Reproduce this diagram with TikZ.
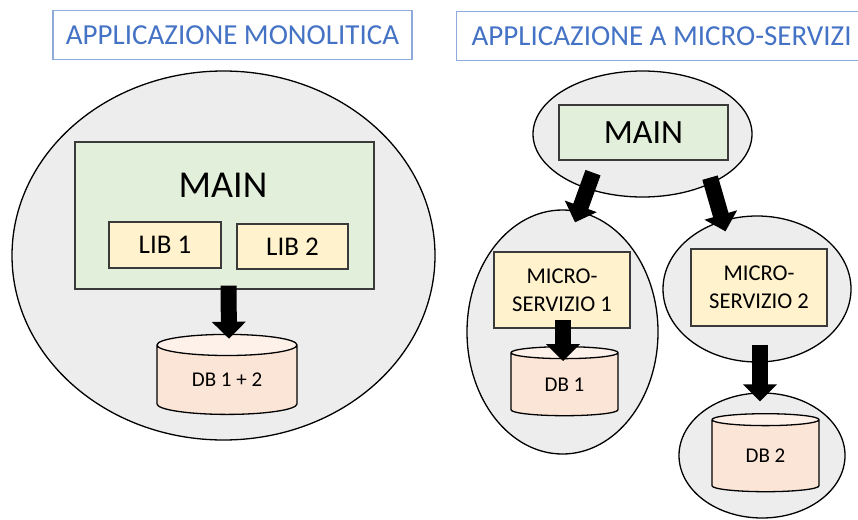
\documentclass[tikz,border=0pt]{standalone}
\usepackage{fontspec}
\setmainfont{Carlito}
\usetikzlibrary{shapes.geometric, arrows.meta, positioning}

\definecolor{titleblue}{HTML}{4472C4}
\definecolor{titleline}{HTML}{8EAADB}
\definecolor{bubblegray}{HTML}{EDEDED}
\definecolor{maingreen}{HTML}{E2EFDA}
\definecolor{libyellow}{HTML}{FFF2CC}
\definecolor{dbpeach}{HTML}{FBE5D6}
\definecolor{dbtop}{HTML}{FDF1E9}
\definecolor{boxline}{HTML}{3A3A3A}

\tikzset{
    title/.style={draw=titleline, line width=1.3pt, text=titleblue, inner sep=0pt,
        minimum height=49pt, font=\fontsize{29}{34}\selectfont},
    bubble/.style={ellipse, draw, fill=bubblegray, line width=1.3pt, inner sep=0pt},
    mainbox/.style={draw=boxline, fill=maingreen, line width=1.2pt, inner sep=0pt},
    libbox/.style={draw=boxline, fill=libyellow, line width=1.2pt, inner sep=0pt},
    db/.style={cylinder, shape border rotate=90, aspect=0.3, draw, line width=1.3pt,
        cylinder uses custom fill, cylinder body fill=dbpeach, cylinder end fill=dbtop,
        inner sep=0pt, font=\fontsize{21}{25}\selectfont},
    bigarrow/.style={line width=16pt, -{Triangle[length=17pt, width=33pt]}}
}

\begin{document}
\begin{tikzpicture}[x=1pt, y=-1pt]
    \useasboundingbox (0,0) rectangle (858,519);

    % monolitica
    \node[title, minimum width=359pt] (titleL) at (232.5,35) {APPLICAZIONE MONOLITICA};
    \node[bubble, minimum width=423pt, minimum height=369pt] (appL) at (223.5,255.5) {};
    \node[mainbox, minimum width=299pt, minimum height=147pt] (mainL) at (224.5,215.5) {};
    \node[font=\fontsize{38}{44}\selectfont] (mainLtext) at (223,185) {MAIN};
    \node[libbox, minimum width=112pt, minimum height=46pt, font=\fontsize{27}{32}\selectfont] (lib1) at (165,245) {LIB 1};
    \node[libbox, minimum width=111pt, minimum height=45pt, font=\fontsize{27}{32}\selectfont] (lib2) at (292.5,246.5) {LIB 2};
    \node[db, minimum width=140pt, minimum height=80pt] (dbL) at (227,380) {DB 1 + 2};

    \draw[bigarrow] ([shift={(4,-4)}]mainL.south) -- ([shift={(2,5)}]dbL.top);

    % micro-servizi
    \node[title, minimum width=410pt, anchor=west] (titleR) at (456,36) {APPLICAZIONE A MICRO-SERVIZI};
    \node[bubble, minimum width=219pt, minimum height=126pt] (appR) at (642.5,134) {};
    \node[mainbox, minimum width=169pt, minimum height=55pt, font=\fontsize{34}{40}\selectfont] (mainR) at (643.5,132.5) {MAIN};

    \node[bubble, minimum width=191pt, minimum height=244pt] (ms1) at (562.5,332) {};
    \node[bubble, minimum width=188pt, minimum height=146pt] (ms2) at (757,289) {};
    \node[bubble, minimum width=166pt, minimum height=125pt] (db2bubble) at (762,455.5) {};

    \node[libbox, minimum width=136pt, minimum height=76pt, align=center,
        font=\fontsize{22.6}{28}\selectfont] (ms1box) at (562,290) {MICRO-\\SERVIZIO 1};
    \node[libbox, minimum width=136pt, minimum height=77pt, align=center,
        font=\fontsize{22.6}{28}\selectfont] (ms2box) at (759,287.5) {MICRO-\\SERVIZIO 2};

    \node[db, minimum width=107pt, minimum height=69pt] (db1) at (564.5,384.5) {DB 1};
    \node[db, minimum width=107pt, minimum height=78pt] (db2) at (765.5,456) {DB 2};

    \draw[bigarrow] ([shift={(-49.5,-25)}]appR.south) -- ([shift={(12.5,13)}]ms1.north);
    \draw[bigarrow] ([shift={(67.5,-20)}]appR.south) -- ([shift={(-31.5,16)}]ms2.north);
    \draw[bigarrow] ([shift={(1,-9)}]ms1box.south) -- ([shift={(-1.5,15)}]db1.top);
    \draw[bigarrow] ([shift={(1,18)}]ms2box.south) -- ([shift={(-2,9)}]db2bubble.north);
\end{tikzpicture}
\end{document}
